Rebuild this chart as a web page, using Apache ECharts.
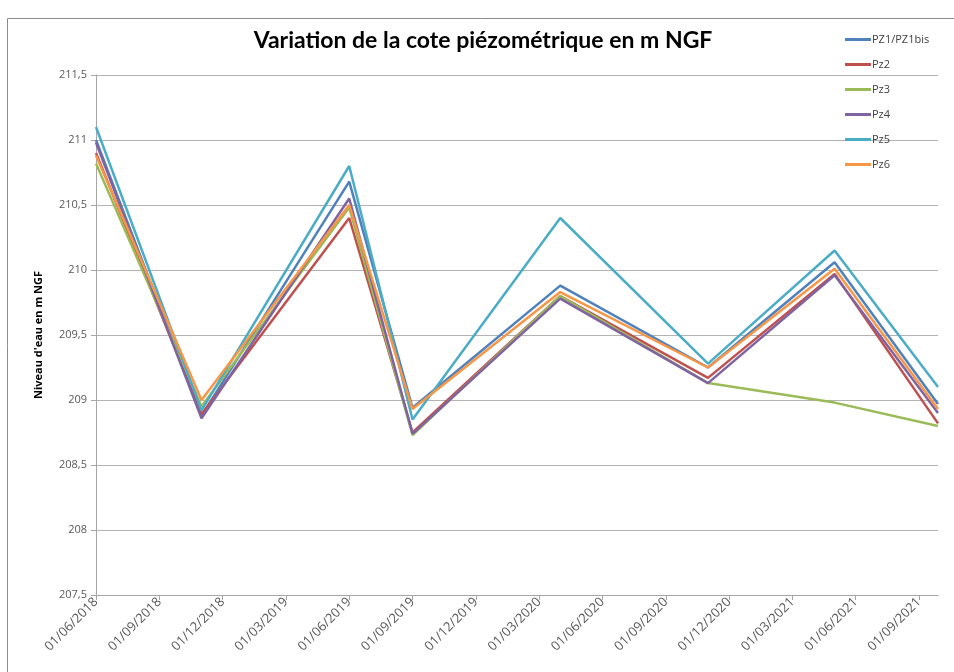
<!DOCTYPE html>
<html>
<head>
<meta charset="utf-8">
<script src="https://cdn.jsdelivr.net/npm/echarts@6/dist/echarts.min.js"></script>
<style>
  html, body { margin: 0; padding: 0; background: #fff; }
  #chart { width: 954px; height: 672px; }
</style>
</head>
<body>
<div id="chart"></div>
<script>
// dates des relevés
const dates = ['2018-06-01', '2018-11-01', '2019-06-01', '2019-09-01', '2020-04-01', '2020-11-01', '2021-05-01', '2021-09-28'];

const seriesNames = ['PZ1/PZ1bis', 'Pz2', 'Pz3', 'Pz4', 'Pz5', 'Pz6'];
const pz1 = [211.0, 208.88, 210.68, 208.94, 209.88, 209.25, 210.06, 208.97];
const pz2 = [210.9, 208.89, 210.4, 208.75, 209.8, 209.17, 209.97, 208.82];
const pz3 = [210.82, 208.95, 210.48, 208.73, 209.8, 209.13, 208.98, 208.8];
const pz4 = [210.98, 208.86, 210.55, 208.74, 209.78, 209.13, 209.96, 208.9];
const pz5 = [211.1, 208.92, 210.8, 208.85, 210.4, 209.28, 210.15, 209.1];
const pz6 = [210.88, 209.0, 210.5, 208.93, 209.83, 209.25, 210.01, 208.93];
const values = [pz1, pz2, pz3, pz4, pz5, pz6];
const colors = ['#4F81BD', '#C0504D', '#9BBB59', '#8064A2', '#4BACC6', '#F79646'];

const startYear = 2018, startMonth = 6;

// date -> nombre de mois depuis 01/06/2018
const toMonths = (s) => {
  const [y, m, d] = s.split('-').map(Number);
  const dim = new Date(y, m, 0).getDate();
  return (y - startYear) * 12 + (m - startMonth) + (d - 1) / dim;
};

// nombre de mois -> libellé jj/mm/aaaa
const monthLabel = (v) => {
  const total = startMonth - 1 + Math.round(v);
  const y = startYear + Math.floor(total / 12);
  const m = (total % 12) + 1;
  return '01/' + String(m).padStart(2, '0') + '/' + y;
};

const chart = echarts.init(document.getElementById('chart'));

const option = {
  backgroundColor: '#fff',
  animation: false,
  textStyle: { fontFamily: 'Open Sans' },
  graphic: [{
    type: 'rect',
    shape: { x: 7.5, y: 18.5, width: 970, height: 680 },
    style: { fill: 'none', stroke: '#8c8c8c', lineWidth: 1 },
    silent: true
  }],
  title: {
    text: 'Variation de la cote piézométrique en m NGF',
    left: 478,
    textAlign: 'center',
    top: 24,
    textStyle: { fontFamily: 'Lato', fontSize: 23, fontWeight: 'bold', color: '#000' }
  },
  legend: {
    orient: 'vertical',
    left: 840,
    top: 29,
    itemWidth: 26,
    itemHeight: 3,
    itemGap: 14,
    icon: 'rect',
    textStyle: { fontSize: 11, color: '#404040', padding: [0, 0, 0, -4] },
    data: seriesNames
  },
  grid: { left: 96, right: 16, top: 75, bottom: 77 },
  xAxis: {
    type: 'value',
    min: 0,
    max: toMonths(dates[dates.length - 1]),
    interval: 3,
    axisLine: { lineStyle: { color: '#a6a6a6' } },
    axisTick: { show: true, length: 5, lineStyle: { color: '#a6a6a6' } },
    splitLine: { show: false },
    axisLabel: {
      rotate: 45,
      fontSize: 13,
      color: '#595959',
      margin: 5,
      showMaxLabel: false,
      formatter: (v) => monthLabel(v)
    }
  },
  yAxis: {
    type: 'value',
    min: 207.5,
    max: 211.5,
    interval: 0.5,
    name: "Niveau d'eau en m NGF",
    nameLocation: 'middle',
    nameGap: 52,
    nameTextStyle: { fontSize: 11, fontWeight: 'bold', color: '#000' },
    axisLine: { show: true, lineStyle: { color: '#a6a6a6' } },
    axisTick: { show: true, length: 5, lineStyle: { color: '#a6a6a6' } },
    splitLine: { lineStyle: { color: '#b3b3b3' } },
    axisLabel: {
      fontSize: 11,
      color: '#595959',
      margin: 9,
      formatter: (v) => String(Math.round(v * 10) / 10).replace('.', ',')
    }
  },
  series: seriesNames.map((name, i) => ({
    name: name,
    type: 'line',
    symbol: 'none',
    color: colors[i],
    lineStyle: { width: 2.5, color: colors[i] },
    data: dates.map((d, j) => [toMonths(d), values[i][j]])
  }))
};

chart.setOption(option);
</script>
</body>
</html>
